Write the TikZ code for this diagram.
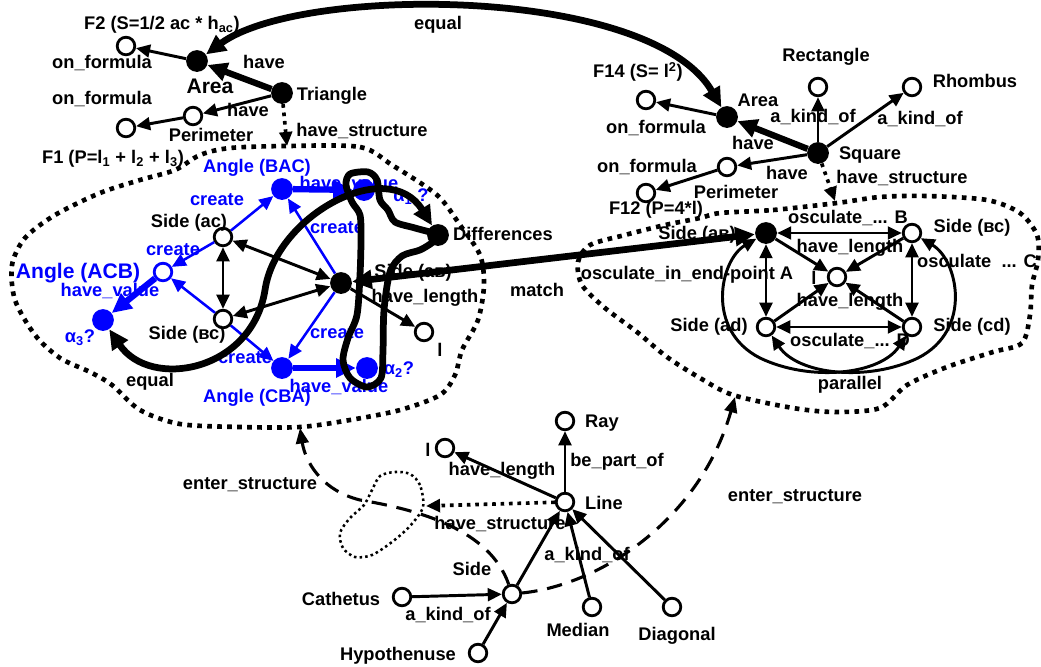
\documentclass[tikz,border=0pt]{standalone}
\usepackage{fontspec}
\setmainfont{Liberation Sans}
\usepackage{tikz}
\usetikzlibrary{arrows.meta}
\definecolor{cBlue}{HTML}{0000FF}
\definecolor{cInk}{HTML}{000000}
\newcommand\tdots{...}
\tikzset{
  onode/.style={circle,draw=#1,fill=white,line width=2pt,minimum size=12.5pt,inner sep=0pt},
  onode/.default=cInk,
  fnode/.style={circle,fill=#1,minimum size=15.5pt,inner sep=0pt},
  fnode/.default=cInk,
  arr/.style={-{Triangle[length=10pt,width=9pt]},line width=2.1pt,color=#1},
  arr/.default=cInk,
  darr/.style={{Triangle[length=10pt,width=9pt]}-{Triangle[length=10pt,width=9pt]},line width=2.1pt,color=cInk},
  tarr/.style={-{Triangle[length=14pt,width=13pt]},line width=4.5pt,color=#1},
  tarr/.default=cInk,
  tdarr/.style={{Triangle[length=14pt,width=13pt]}-{Triangle[length=14pt,width=13pt]},line width=4.8pt,color=cInk},
  sarr/.style={-{Triangle[length=10pt,width=9pt]},line width=2.6pt,dash pattern=on 2.6pt off 3.4pt},
  earr/.style={-{Triangle[length=11pt,width=9pt]},line width=2.2pt,dash pattern=on 11pt off 7pt},
  blob/.style={line width=3.3pt,dash pattern=on 3.3pt off 3.8pt},
  lbl/.style={font=\fontsize{13}{15}\selectfont\bfseries,inner sep=1pt,text=#1},
  lbl/.default=cInk,
  big/.style={font=\fontsize{15}{17}\selectfont\bfseries,inner sep=1pt,text=#1},
  big/.default=cInk,
}

\begin{document}
\begin{tikzpicture}[x=0.025cm,y=-0.025cm]
  \useasboundingbox (0,0) rectangle (1041,666);
  % structures
  \draw[blob] plot[smooth cycle] coordinates {(287,146) (360,147) (392,165) (437,195) (460,225) (480,255) (484,285) (478,320) (462,350) (455,375) (440,395) (400,410) (350,420) (300,427) (240,427) (180,424) (140,410) (112,385) (90,372) (60,358) (35,335) (15,300) (12,265) (25,238) (55,215) (100,193) (140,180) (175,170) (200,155) (230,148)};
  \draw[blob] plot[smooth cycle] coordinates {(720,213) (773,210) (837,203) (880,197) (927,196) (987,200) (1020,213) (1037,235) (1038,260) (1032,285) (1030,315) (1022,343) (993,352) (947,367) (907,385) (880,408) (835,412) (793,408) (733,395) (700,378) (667,357) (637,332) (605,308) (582,285) (578,262) (590,245) (625,235) (665,225) (700,218)};
  \draw[line width=1.8pt,dash pattern=on 1.8pt off 2.2pt] plot[smooth cycle] coordinates {(423,507) (420,485) (410,474) (395,472) (380,476) (372,490) (364,505) (350,518) (340,533) (343,548) (355,557) (372,555) (392,542) (410,526)};

  % triangle and square
  \node[onode] (f2) at (126,46) {};
  \node[fnode] (area1) at (197,61) {};
  \node[fnode] (tri) at (282,93) {};
  \node[onode] (per1) at (193,116) {};
  \node[onode] (f1) at (126,128) {};
  \node[onode] (f14) at (646,100) {};
  \node[fnode] (area2) at (727,117) {};
  \node[onode] (rect) at (818,87) {};
  \node[onode] (rhomb) at (912,87) {};
  \node[fnode] (sq) at (818,153) {};
  \node[onode] (per2) at (727,167) {};
  \node[onode] (f12) at (646,193) {};
  \coordinate (lst) at (287,146);
  \coordinate (rst) at (835,201);

  % left structure
  \node[fnode=cBlue] (bac) at (282,189) {};
  \node[fnode=cBlue] (al1) at (364,190) {};
  \node[onode] (sac) at (223,237) {};
  \node[onode=cBlue] (acb) at (163,272) {};
  \node[fnode=cBlue] (al3) at (103,320) {};
  \node[onode] (sbc) at (223,319) {};
  \node[fnode] (sab) at (341,283) {};
  \node[onode] (len1) at (424,332) {};
  \node[fnode] (diff) at (438,235) {};
  \node[fnode=cBlue] (cba) at (282,368) {};
  \node[fnode=cBlue] (al2) at (367,368) {};

  % right structure
  \node[fnode] (rab) at (766,233) {};
  \node[onode] (rbc) at (912,233) {};
  \node[onode] (len2) at (837,277) {};
  \node[onode] (rad) at (766,327) {};
  \node[onode] (rcd) at (912,327) {};

  % line
  \node[onode] (ray) at (565,421) {};
  \node[onode] (len3) at (445,448) {};
  \node[onode] (line) at (565,502) {};
  \node[onode] (side) at (512,594) {};
  \node[onode] (cath) at (402,597) {};
  \node[onode] (hyp) at (478,653) {};
  \node[onode] (med) at (592,607) {};
  \node[onode] (diag) at (672,607) {};
  \coordinate (lin) at (300,428);
  \coordinate (rin) at (735,397);
  \coordinate (loop) at (426,506);

  \draw[arr] (area1) -- (f2);
  \draw[tarr] (tri) -- (area1);
  \draw[arr] (tri) -- (per1);
  \draw[arr] (per1) -- (f1);
  \draw[sarr] (tri) -- (lst);
  \draw[arr] (area2) -- (f14);
  \draw[tarr] (sq) -- (area2);
  \foreach \b in {rect,rhomb,per2}
    \draw[arr] (sq) -- (\b);
  \draw[arr] (per2) -- (f12);
  \draw[sarr] (sq) -- (rst);

  \foreach \a/\b in {sac/bac,sac/acb,sbc/acb,sbc/cba,sab/bac,sab/cba}
    \draw[arr=cBlue,line width=1.8pt] (\a) -- (\b);
  \foreach \a/\b in {acb/al3,bac/al1,cba/al2}
    \draw[tarr=cBlue] (\a) -- (\b);
  \foreach \a/\b in {sac/sbc,sab/sac,sab/sbc}
    \draw[darr] (\a) -- (\b);
  \draw[arr] (sab) -- (len1);

  \foreach \a/\b in {rab/rbc,rab/rad,rbc/rcd,rad/rcd}
    \draw[darr] (\a) -- (\b);
  \foreach \a in {rab,rbc,rad,rcd}
    \draw[arr] (\a) -- (len2);
  \draw[darr] (rab) .. controls (720,260) and (705,330) .. (760,358) .. controls (810,382) and (880,375) .. (rcd);
  \draw[darr] (rbc) .. controls (958,260) and (973,330) .. (918,358) .. controls (868,382) and (798,375) .. (rad);

  \draw[arr] (line) -- (ray);
  \draw[arr] (line) -- (len3);
  \draw[sarr] (line) -- (loop);
  \foreach \a in {side,med,diag}
    \draw[arr] (\a) -- (line);
  \foreach \a in {cath,hyp}
    \draw[arr] (\a) -- (side);
  \draw[earr] (side) .. controls (490,530) and (420,510) .. (360,500) .. controls (320,490) and (305,460) .. (lin);
  \draw[earr] (side) .. controls (600,585) and (700,520) .. (rin);

  % labels
  \foreach \x/\y/\t [count=\i] in {162/25/{F2 (S=1/2 ac * h\textsubscript{ac})},102/63/on\_formula,102/99/on\_formula,332/96/Triangle,264/62/have,248/110/have,211/135/Perimeter,362/131/have\_structure,113/159/{F1 (P=l\textsubscript{1} + l\textsubscript{2} + l\textsubscript{3})},438/25/equal,638/72/{F14 (S= l\textsuperscript{2})},758/100/Area,826/57/Rectangle,975/81/Rhombus,870/155/Square,656/128/on\_formula,753/143/have,813/117/a\_kind\_of,920/119/a\_kind\_of,787/173/have,647/167/on\_formula,736/192/Perimeter,902/178/have\_structure,656/210/{F12 (P=4*l)}}
    \node[lbl] (ta\i) at (\x,\y) {\t};
  \node[big] (ta0) at (210,86) {Area};
  \foreach \x/\y/\t [count=\i] in {189/223/Side (ac),187/335/Side (вс),413/273/Side (aв),503/234/Differences,425/298/have\_length,440/350/l,150/382/equal,537/290/match,697/235/Side (aв),972/228/Side (вс),814/278/l,709/327/Side (ad),972/327/Side (cd),848/218/{osculate\_\tdots{} B},850/248/have\_length,687/275/osculate\_in\_end-point A,977/261/{osculate ~\tdots{} C},850/302/have\_length,850/341/{osculate\_\tdots{} D},850/385/parallel}
    \node[lbl] (tb\i) at (\x,\y) {\t};
  \foreach \x/\y/\t [count=\i] in {257/168/Angle (BAC),217/200/create,173/250/create,110/291/have\_value,80/338/α\textsubscript{3}?,337/228/create,337/333/create,245/358/create,257/398/Angle (CBA),339/387/have\_value,399/370/α\textsubscript{2}?,349/184/have\_value,411/197/α\textsubscript{1} ?}
    \node[lbl=cBlue] (tc\i) at (\x,\y) {\t};
  \node[big=cBlue] (tc0) at (78,273) {Angle (ACB)};
  \foreach \x/\y/\t [count=\i] in {602/423/Ray,428/450/l,604/503/Line,617/462/be\_part\_of,502/471/have\_length,500/524/have\_structure,587/555/a\_kind\_of,472/569/Side,341/599/Cathetus,448/615/a\_kind\_of,398/656/Hypothenuse,578/630/Median,677/636/Diagonal,250/485/enter\_structure,795/497/enter\_structure}
    \node[lbl] (td\i) at (\x,\y) {\t};

  % equal and match
  \draw[tdarr] (area1) .. controls (300,-15) and (650,-15) .. (area2);
  \draw[tdarr] (al3) .. controls (150,390) and (252,372) .. (265,290) .. controls (276,215) and (388,155) .. (diff);
  \draw[tdarr] (sab) -- (rab);
  \draw[line width=4.8pt,line join=round] plot[smooth cycle,tension=0.5] coordinates {(438,235) (415,228) (395,222) (388,210) (380,200) (377,180) (368,172) (350,174) (346,185) (352,202) (360,215) (361,240) (360,275) (357,315) (348,338) (343,360) (350,378) (367,387) (381,378) (383,350) (384,310) (390,272) (402,256) (420,250) (433,242)};
\end{tikzpicture}
\end{document}
